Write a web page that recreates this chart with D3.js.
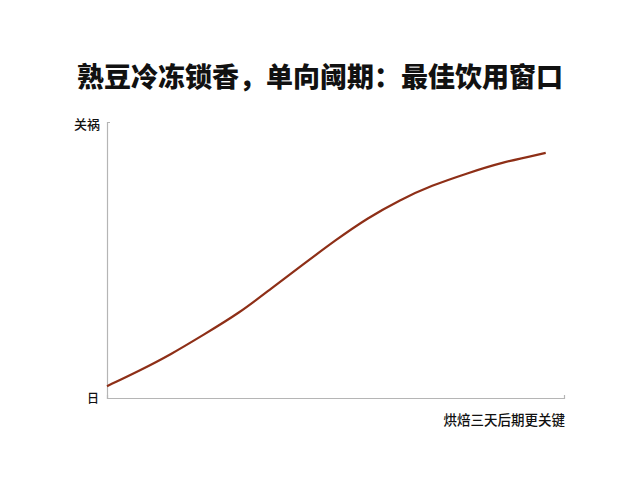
<!DOCTYPE html>
<html><head><meta charset="utf-8">
<script src="https://cdn.jsdelivr.net/npm/d3@7"></script>
<style>body{margin:0;background:#fff;} svg{display:block;}</style>
</head><body>
<svg id="c" width="640" height="480"></svg>
<script>
const title = "熟豆冷冻锁香，单向阈期：最佳饮用窗口";
const yLabel = "关祸";
const xLabel = "烘焙三天后期更关键";
const yOriginLabel = "日";
const days = [0, 7, 14, 21, 29, 36, 43, 50, 57, 64, 71, 79, 86, 96];
const flavor = [4.3, 9.8, 15.8, 22.8, 30.8, 39.8, 48.5, 57.2, 65.2, 71.7, 77.0, 81.5, 85.2, 88.8];

const svg = d3.select("#c");
const font = "'Noto Sans CJK SC', 'Noto Sans', sans-serif";
const m = {l:107, r:564, t:122, b:398};
const x = d3.scaleLinear().domain([0,100]).range([m.l, m.r]);
const y = d3.scaleLinear().domain([0,100]).range([m.b, m.t]);

svg.append("rect").attr("width",640).attr("height",480).attr("fill","#fff");

svg.append("text").attr("x",320).attr("y",87).attr("text-anchor","middle")
  .attr("font-family",font).attr("font-weight","900").attr("font-size",27)
  .attr("fill","#111").text(title);

const gx = svg.append("g").attr("transform",`translate(0,${m.b})`)
  .call(d3.axisBottom(x).tickValues([100]).tickSize(-3).tickFormat(""));
const gy = svg.append("g").attr("transform",`translate(${m.l},0)`)
  .call(d3.axisLeft(y).tickValues([100]).tickSize(-3).tickFormat(""));
[gx,gy].forEach(g=>{
  g.selectAll("path").attr("stroke","#b5b5b5").attr("stroke-width",1.2);
  g.selectAll("line").attr("stroke","#b5b5b5");
});

svg.append("text").attr("x",100).attr("y",y(100)+7).attr("text-anchor","end")
  .attr("font-family",font).attr("font-weight","500").attr("font-size",13).attr("fill","#111").text(yLabel);
svg.append("text").attr("x",99).attr("y",m.b+5).attr("text-anchor","end")
  .attr("font-family",font).attr("font-weight","500").attr("font-size",12).attr("fill","#111").text(yOriginLabel);
svg.append("text").attr("x",565).attr("y",425).attr("text-anchor","end")
  .attr("font-family",font).attr("font-weight","500").attr("font-size",13.5).attr("fill","#111").text(xLabel);

const data = days.map((d,i)=>({d, v:flavor[i]}));
svg.append("path").datum(data)
  .attr("fill","none").attr("stroke","#8e2f17").attr("stroke-width",2.2)
  .attr("d", d3.line().x(p=>x(p.d)).y(p=>y(p.v)).curve(d3.curveBasis));
</script>
</body></html>
